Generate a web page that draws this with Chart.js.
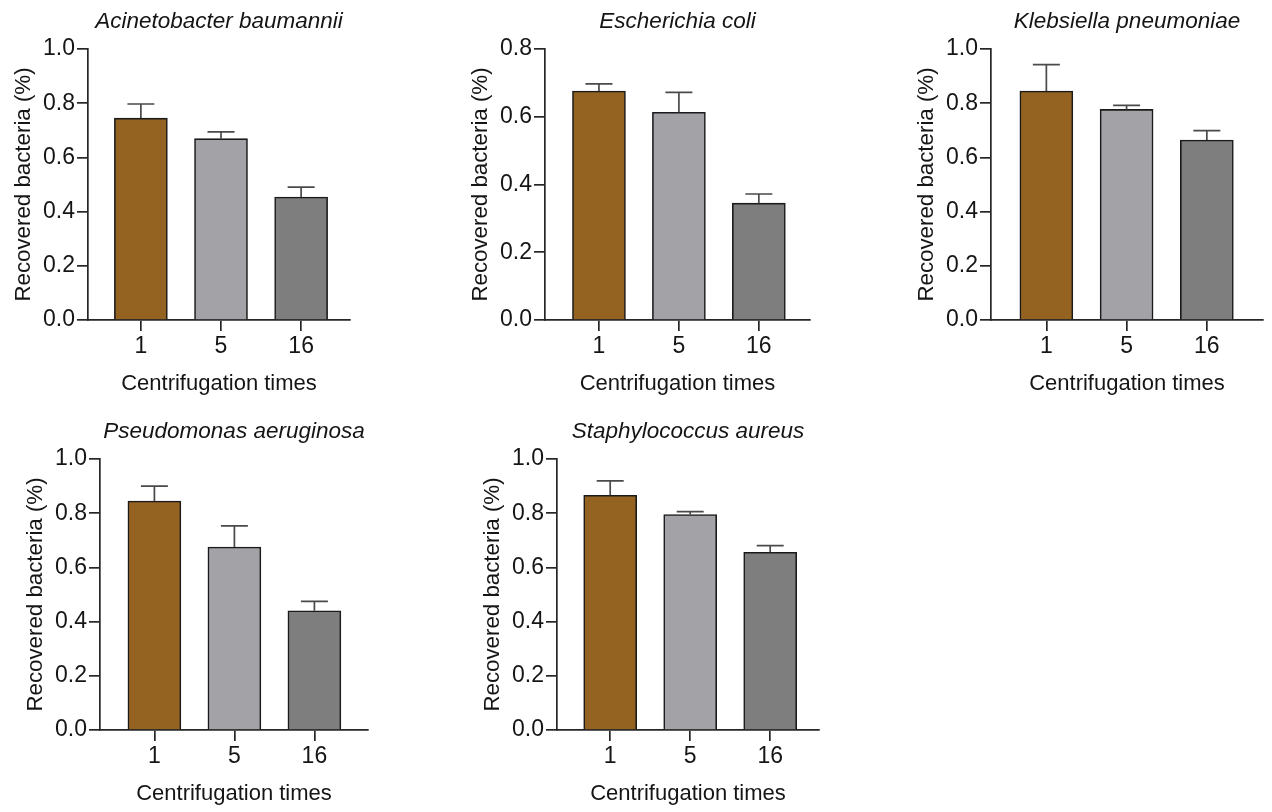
<!DOCTYPE html>
<html>
<head>
<meta charset="utf-8">
<script src="https://cdn.jsdelivr.net/npm/chart.js@4"></script>
<style>
  html, body { margin: 0; padding: 0; background: #ffffff; }
  body { width: 1272px; height: 812px; position: relative; overflow: hidden; }
  canvas { position: absolute; }
</style>
</head>
<body>
<script>
// ---------- data ----------
const categories = ['1', '5', '16'];
const speciesNames = ['Acinetobacter baumannii', 'Escherichia coli', 'Klebsiella pneumoniae', 'Pseudomonas aeruginosa', 'Staphylococcus aureus'];
const acinetobacterMeans = [0.745, 0.669, 0.454];
const acinetobacterSD    = [0.052, 0.025, 0.036];
const ecoliMeans         = [0.676, 0.613, 0.345];
const ecoliSD            = [0.021, 0.059, 0.027];
const klebsiellaMeans    = [0.845, 0.777, 0.664];
const klebsiellaSD       = [0.097, 0.015, 0.035];
const pseudomonasMeans   = [0.845, 0.675, 0.440];
const pseudomonasSD      = [0.055, 0.078, 0.035];
const staphMeans         = [0.866, 0.795, 0.656];
const staphSD            = [0.053, 0.011, 0.024];
const yMaxValues = [1.0, 0.8, 1.0, 1.0, 1.0];
const yStep = 0.2;
const xAxisTitle = 'Centrifugation times';
const yAxisTitle = 'Recovered bacteria (%)';

// ---------- layout / style ----------
const barColors = ['#946221', '#a3a3a7', '#7e7e7e'];
const panels = [
  { means: acinetobacterMeans, sd: acinetobacterSD, area: [88, 49, 350, 320], xr: [-0.66, 2.61] },
  { means: ecoliMeans,         sd: ecoliSD,         area: [545, 49, 810, 320], xr: [-0.675, 2.64] },
  { means: klebsiellaMeans,    sd: klebsiellaSD,    area: [991, 49, 1263, 320], xr: [-0.69, 2.70] },
  { means: pseudomonasMeans,   sd: pseudomonasSD,   area: [100, 459, 368, 730], xr: [-0.68, 2.67] },
  { means: staphMeans,         sd: staphSD,         area: [557, 459, 819, 730], xr: [-0.665, 2.61] }
];
const M = { left: 88, top: 49, right: 9, bottom: 80 };
const FONT = "'Liberation Sans', Arial, Helvetica, sans-serif";
const AXIS_COLOR = '#262626';
const TEXT_COLOR = '#151515';

Chart.defaults.font.family = FONT;
Chart.defaults.color = TEXT_COLOR;

const errorBarPlugin = {
  id: 'errorBars',
  afterDatasetsDraw(chart) {
    const sd = chart.options.plugins.errorBars.sd;
    const meta = chart.getDatasetMeta(0);
    const ys = chart.scales.y;
    const ctx = chart.ctx;
    ctx.save();
    ctx.strokeStyle = '#4a4a4a';
    ctx.lineWidth = 1.7;
    meta.data.forEach((bar, i) => {
      const v = chart.data.datasets[0].data[i].y;
      const yTop = ys.getPixelForValue(v + sd[i]);
      const yBar = ys.getPixelForValue(v);
      const half = 13.5;
      ctx.beginPath();
      ctx.moveTo(bar.x, yBar);
      ctx.lineTo(bar.x, yTop);
      ctx.moveTo(bar.x - half, yTop);
      ctx.lineTo(bar.x + half, yTop);
      ctx.stroke();
    });
    ctx.restore();
  }
};

panels.forEach((p, k) => {
  const [L, T, R, B] = p.area;
  const cv = document.createElement('canvas');
  const cl = L - M.left, ct = T - M.top;
  const cw = R + M.right - cl, ch = B + M.bottom - ct;
  cv.width = cw; cv.height = ch;
  cv.style.left = cl + 'px'; cv.style.top = ct + 'px';
  cv.style.width = cw + 'px'; cv.style.height = ch + 'px';
  document.body.appendChild(cv);

  new Chart(cv, {
    type: 'bar',
    data: {
      datasets: [{
        data: categories.map((c, i) => ({ x: i, y: p.means[i] })),
        backgroundColor: barColors,
        borderColor: '#1a1a1a',
        borderWidth: 1.6,
        borderSkipped: 'start',
        barThickness: 53
      }]
    },
    options: {
      responsive: false,
      animation: false,
      devicePixelRatio: 1,
      layout: { padding: { left: 0, top: 0, right: M.right, bottom: 0 } },
      plugins: {
        legend: { display: false },
        tooltip: { enabled: false },
        title: {
          display: true,
          text: speciesNames[k],
          fullSize: false,
          color: TEXT_COLOR,
          font: { size: 22.5, style: 'italic', weight: 'normal' },
          padding: { top: 8, bottom: M.top - 8 - 27 }
        },
        errorBars: { sd: p.sd }
      },
      scales: {
        x: {
          type: 'linear',
          offset: false,
          min: p.xr[0],
          max: p.xr[1],
          afterBuildTicks: (s) => { s.ticks = categories.map((c, i) => ({ value: i })); },
          afterFit: (s) => { s.height = M.bottom; },
          ticks: {
            callback: (v) => categories[v],
            font: { size: 23 },
            color: TEXT_COLOR,
            padding: 2,
            maxRotation: 0,
            autoSkip: false
          },
          grid: { display: true, offset: false, drawOnChartArea: false, drawTicks: true, tickLength: 11, color: AXIS_COLOR, lineWidth: 1.7 },
          border: { display: true, color: AXIS_COLOR, width: 1.7 },
          title: { display: true, text: xAxisTitle, font: { size: 22 }, color: TEXT_COLOR, padding: { top: 0, bottom: 3 } }
        },
        y: {
          min: 0,
          max: yMaxValues[k],
          afterFit: (s) => { s.width = M.left; },
          ticks: {
            stepSize: yStep,
            callback: (v) => v.toFixed(1),
            font: { size: 23 },
            color: TEXT_COLOR,
            padding: 2
          },
          grid: { display: true, drawOnChartArea: false, drawTicks: true, tickLength: 11, color: AXIS_COLOR, lineWidth: 1.7 },
          border: { display: true, color: AXIS_COLOR, width: 1.7 },
          title: { display: true, text: yAxisTitle, font: { size: 22.3 }, color: TEXT_COLOR, padding: { top: 10, bottom: 0 } }
        }
      }
    },
    plugins: [errorBarPlugin]
  });
});
</script>
</body>
</html>
